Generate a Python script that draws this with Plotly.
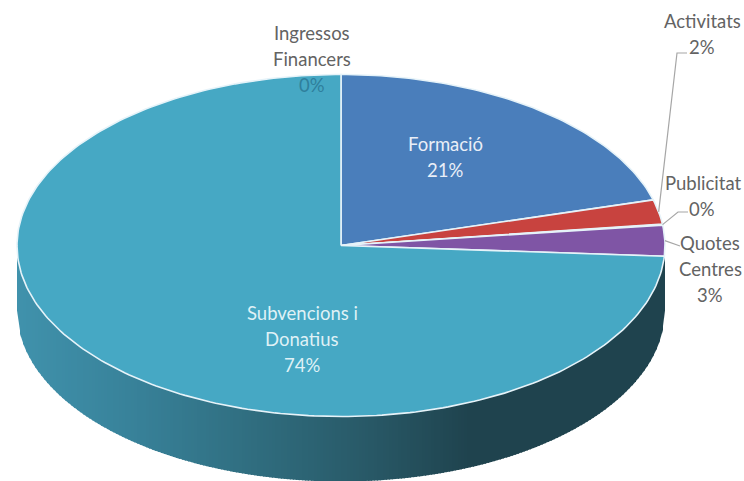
import math
import plotly.graph_objects as go

# Data
categories = ["Formació", "Activitats", "Publicitat", "Quotes Centres", "Subvencions i Donatius", "Ingressos Financers"]
values = [20.7, 2.3, 0.1, 2.9, 74.0, 0.0]
colors = ["#4a7ebb", "#c8433f", "#8fae4a", "#7f55a5", "#46a8c4", "#2c6f9e"]

# Label text lines with their placement
label_lines = {
    "Formació": [("Formació", 445, 144), (None, 445, 170)],
    "Activitats": [("Activitats", 702, 21), (None, 702, 47)],
    "Publicitat": [("Publicitat", 703, 183), (None, 702, 209)],
    "Quotes Centres": [("Quotes", 710, 243), ("Centres", 710, 269), (None, 710, 295)],
    "Subvencions i Donatius": [("Subvencions i", 302, 313), ("Donatius", 302, 339), (None, 302, 365)],
    "Ingressos Financers": [("Ingressos", 312, 33), ("Financers", 312, 59), (None, 312, 85)],
}
label_colors = {"Formació": "#e9eef7", "Subvencions i Donatius": "#dff1f6", "Ingressos Financers": "#636363"}

CX, CY, RX, RY, DEPTH = 341, 245.5, 324, 171, 65
total = sum(values)


def point(frac):
    a = 2 * math.pi * frac
    return CX + RX * math.sin(a), CY - RY * math.cos(a)


def lower_edge(x):
    t = max(0.0, 1 - ((x - CX) / RX) ** 2)
    return CY + RY * math.sqrt(t)


def wall_color(x):
    stops = [(17, (64, 146, 172)), (130, (56, 130, 154)), (250, (48, 110, 128)),
             (372, (40, 88, 102)), (470, (31, 67, 78)), (665, (31, 67, 78))]
    for (x0, c0), (x1, c1) in zip(stops, stops[1:]):
        if x <= x1:
            t = (x - x0) / (x1 - x0)
            return "rgb(%d,%d,%d)" % tuple(round(a + (b - a) * t) for a, b in zip(c0, c1))
    return "rgb(31,67,78)"


fig = go.Figure()

# Side wall: vertical strips across the lower half of the ellipse
left, right = CX - RX, CX + RX
STRIP = 3
xpos = left
while xpos < right:
    x0 = xpos
    x1 = min(xpos + STRIP + 1, right)
    col = wall_color((x0 + x1) / 2)
    fig.add_trace(go.Scatter(x=[x0, x1, x1, x0, x0],
                             y=[CY - 5, CY - 5, lower_edge(x1) + DEPTH, lower_edge(x0) + DEPTH, CY - 5],
                             mode="lines", fill="toself", fillcolor=col,
                             line=dict(width=0, color=col), hoverinfo="skip", showlegend=False))
    xpos += STRIP

# Top face: one wedge per category, drawn in value order from 12 o'clock
cum = 0.0
mids = {}
for name, val, col in zip(categories, values, colors):
    start = cum / total
    end = (cum + val) / total
    mids[name] = (start + end) / 2
    cum += val
    if val == 0:
        continue
    steps = max(2, int((end - start) * 360))
    pts = [point(start + (end - start) * k / steps) for k in range(steps + 1)]
    xs = [CX] + [p[0] for p in pts] + [CX]
    ys = [CY] + [p[1] for p in pts] + [CY]
    fig.add_trace(go.Scatter(x=xs, y=ys, mode="lines", fill="toself", fillcolor=col,
                             line=dict(color="#e6f3f9", width=1.6), name=name,
                             hoverinfo="skip", showlegend=False))

# Leader lines
leaders = {"Activitats": [(677, 53), (687, 53)], "Publicitat": [(678, 212), (688, 212)], "Quotes Centres": [(680, 246)]}
for name, tail in leaders.items():
    sx, sy = point(mids[name])
    fig.add_trace(go.Scatter(x=[sx] + [p[0] for p in tail], y=[sy] + [p[1] for p in tail], mode="lines",
                             line=dict(color="#a6a6a6", width=1.2), hoverinfo="skip", showlegend=False))

# Labels
annotations = []
for name, val in zip(categories, values):
    for text, x, y in label_lines[name]:
        shown = text if text is not None else f"{round(val / total * 100)}%"
        color = label_colors.get(name, "#636363")
        if name == "Ingressos Financers" and text is None:
            color = "#2f7f9c"
        annotations.append(dict(x=x, y=y, text=shown, showarrow=False, xanchor="center", yanchor="middle",
                                font=dict(family="Lato", size=18.5, color=color)))

fig.update_layout(
    width=744, height=481, margin=dict(l=0, r=0, t=0, b=0),
    paper_bgcolor="white", plot_bgcolor="white", annotations=annotations,
    xaxis=dict(range=[0, 744], visible=False, fixedrange=True),
    yaxis=dict(range=[481, 0], visible=False, fixedrange=True),
)
fig.write_html("out.html", config=dict(displayModeBar=False), post_script="document.body.style.margin='0';")
